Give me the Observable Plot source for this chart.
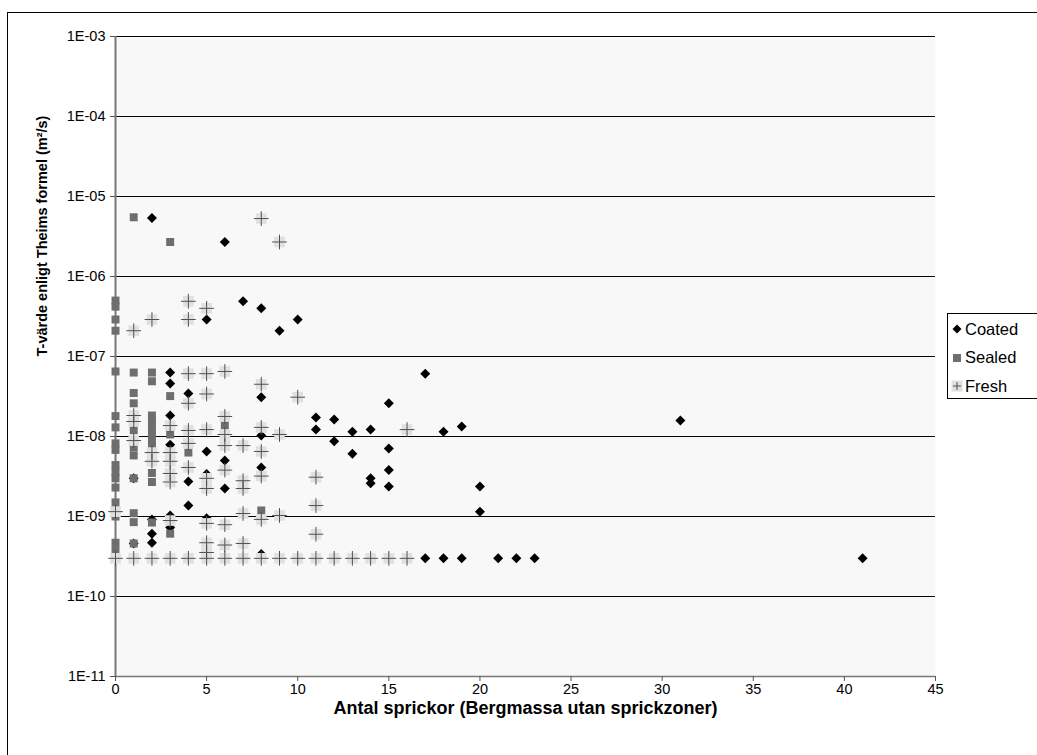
<!DOCTYPE html>
<html><head><meta charset="utf-8">
<script src="https://cdn.jsdelivr.net/npm/d3@7"></script>
<script src="https://cdn.jsdelivr.net/npm/@observablehq/plot@0.6"></script>
<style>
body{margin:0;background:#fff;font-family:"Liberation Sans",Arial,sans-serif;}
#wrap{position:relative;width:1037px;height:755px;overflow:hidden;}
#wrap svg.plot{position:absolute;left:0;top:0;}
#border{position:absolute;left:7px;top:12px;width:1100px;height:800px;border:1px solid #000;pointer-events:none;z-index:2;}
#legend{position:absolute;left:947px;top:313px;width:120px;height:84px;border:1px solid #000;background:#fff;z-index:3;font-size:16.5px;}
#legend .item{position:absolute;left:0;height:20px;display:flex;align-items:center;}
#legend svg{margin-left:3px;margin-right:2px;}
</style></head><body><div id="wrap"><div id="border"></div><div id="legend"></div></div>
<script>
// ---- data ----
const seriesNames = ["Coated", "Sealed", "Fresh"];
const coatedX = [2,6,7,8,5,10,9, 3,3,3,3,3,3, 4,4,4, 5,5,5, 6,6, 8,8,8,8, 1,1, 2,2,2, 11,11,12,12,13,13,14,14,14,15,15,15,15,17,17,18,18,19,19,20,20,21,22,23,31,41];
const coatedT = [5.4e-6,2.7e-6,4.9e-7,4.0e-7,2.9e-7,2.9e-7,2.1e-7, 6.3e-8,4.6e-8,1.83e-8,7.9e-9,1.03e-9,7.3e-10, 3.45e-8,2.74e-9,1.37e-9, 6.5e-9,3.4e-9,9.5e-10, 5.0e-9,2.24e-9, 3.1e-8,1.03e-8,4.1e-9,3.4e-10, 3.0e-9,4.6e-10, 9.2e-10,6.1e-10,4.7e-10, 1.73e-8,1.22e-8,1.63e-8,8.7e-9,1.15e-8,6.1e-9,1.22e-8,3.0e-9,2.6e-9,2.6e-8,7.1e-9,3.8e-9,2.37e-9,6.1e-8,3e-10,1.15e-8,3e-10,1.33e-8,3e-10,2.37e-9,1.15e-9,3e-10,3e-10,3e-10,1.58e-8,3e-10];
const sealedX = [0,0,0,0,0,0,0,0,0,0,0,0,0,0,0,0,0,0, 1,1,1,1,1,1,1,1,1,1,1, 2,2,2,2,2,2,2,2,2,2,2, 3,3,3,3, 4, 6, 8];
const sealedT = [5.0e-7,4.2e-7,2.9e-7,2.1e-7,6.5e-8,1.8e-8,1.3e-8,8.2e-9,6.8e-9,4.4e-9,3.6e-9,3.0e-9,2.3e-9,1.5e-9,1.2e-9,1.0e-9,4.7e-10,3.8e-10,
  5.5e-6,6.3e-8,3.5e-8,2.6e-8,1.2e-8,7.3e-9,5.8e-9,3.0e-9,1.1e-9,8.5e-10,4.6e-10,
  6.3e-8,4.9e-8,1.83e-8,1.58e-8,1.3e-8,1.09e-8,8.9e-9,7.5e-9,3.5e-9,2.7e-9,8.4e-10,
  2.7e-6,3.2e-8,1.06e-8,6.1e-10, 6.3e-9, 1.37e-8, 1.19e-9];
const freshX = [0,0, 1,1,1,1,1, 2,2,2,2, 3,3,3,3,3,3,3, 4,4,4,4,4,4,4,4, 5,5,5,5,5,5,5,5,5,5, 6,6,6,6,6,6,6,6, 7,7,7,7,7,7, 8,8,8,8,8,8,8, 9,9,9,9, 10,10, 11,11,11,11, 12,13,14,15, 16,16];
const freshT = [1.15e-9,3e-10, 2.1e-7,1.83e-8,1.54e-8,8.9e-9,3e-10, 2.9e-7,6.3e-9,4.9e-9,3e-10,
  1.37e-8,6.3e-9,4.9e-9,3.45e-9,2.7e-9,8.9e-10,3e-10,
  4.9e-7,2.9e-7,6.1e-8,2.6e-8,1.19e-8,8.2e-9,4.1e-9,3e-10,
  4.0e-7,6.1e-8,3.4e-8,1.22e-8,3.0e-9,2.24e-9,8.2e-10,4.7e-10,3.55e-10,3e-10,
  6.5e-8,1.78e-8,1.06e-8,7.7e-9,3.8e-9,7.9e-10,4.4e-10,3e-10,
  7.7e-9,2.8e-9,2.24e-9,1.09e-9,4.6e-10,3e-10,
  5.3e-6,4.5e-8,1.3e-8,6.5e-9,3.2e-9,9.2e-10,3e-10,
  2.7e-6,1.06e-8,1.03e-9,3e-10, 3.1e-8,3e-10, 3.1e-9,1.37e-9,6e-10,3e-10, 3e-10,3e-10,3e-10,3e-10, 1.22e-8,3e-10];
const xTicks = [0,5,10,15,20,25,30,35,40,45];
const yTicks = [1e-11,1e-10,1e-9,1e-8,1e-7,1e-6,1e-5,1e-4,1e-3];
const xTitle = "Antal sprickor (Bergmassa utan sprickzoner)";
const yTitle = "T-värde enligt Theims formel (m²/s)";

// ---- build tables ----
const coated = coatedX.map((x, i) => ({x, t: coatedT[i]}));
const sealed = sealedX.map((x, i) => ({x, t: sealedT[i]}));
const fresh = freshX.map((x, i) => ({x, t: freshT[i]}));

const fmtE = d => "1E-" + String(Math.round(-Math.log10(d))).padStart(2, "0");

const chart = Plot.plot({
  width: 1037,
  height: 755,
  marginLeft: 115,
  marginRight: 102,
  marginTop: 36,
  marginBottom: 79,
  style: {fontFamily: "'Liberation Sans', Arial, sans-serif", fontSize: "14.5px", color: "#000", background: "transparent"},
  x: {domain: [0, 45]},
  y: {type: "log", domain: [1e-11, 1e-3]},
  marks: [
    Plot.frame({fill: "#f8f8f8"}),
    Plot.ruleY(yTicks, {stroke: "#000", strokeWidth: 1}),
    Plot.ruleY([yTicks[0]], {stroke: "#777", strokeWidth: 1.5}),
    Plot.ruleX([xTicks[0]], {stroke: "#777", strokeWidth: 2}),
    Plot.axisY(yTicks, {tickFormat: fmtE, tickSize: 5, tickPadding: 5, label: null, stroke: "#555", fontSize: 14.5}),
    Plot.axisX(xTicks, {tickSize: 5, tickPadding: 2, label: null, stroke: "#555", fontSize: 14.5}),
    Plot.dot(coated, {x: "x", y: "t", symbol: "diamond2", r: 4.5, fill: "#000", stroke: "none"}),
    Plot.dot(sealed, {x: "x", y: "t", symbol: "square", r: 4.5, fill: "#6e6e6e", stroke: "none"}),
    Plot.dot(fresh, {x: "x", y: "t", symbol: "square", r: 6, fill: "#e0e0e0", stroke: "none"}),
    Plot.dot(fresh, {x: "x", y: "t", symbol: "plus", r: 4.8, stroke: "#505050", strokeWidth: 1}),
    Plot.text([xTitle], {text: d => d, frameAnchor: "bottom", dy: 37, fontWeight: "bold", fontSize: 18}),
    Plot.text([yTitle], {text: d => d, frameAnchor: "left", dx: -73, rotate: -90, fontWeight: "bold", fontSize: 14.5})
  ]
});
document.getElementById("wrap").prepend(chart);

// ---- legend ----
const legend = document.getElementById("legend");
const icons = {
  Coated: '<svg width="12" height="12"><path d="M6,1.5L10.5,6L6,10.5L1.5,6Z" fill="#000"/></svg>',
  Sealed: '<svg width="12" height="12"><rect x="2" y="2" width="8" height="8" fill="#6e6e6e"/></svg>',
  Fresh: '<svg width="12" height="12"><rect x="0.5" y="0.5" width="11" height="11" fill="#e0e0e0"/><path d="M2,6H10M6,2V10" stroke="#505050"/></svg>'
};
seriesNames.forEach((name, i) => {
  const div = document.createElement("div");
  div.className = "item";
  div.style.top = (5 + i * 28.5) + "px";
  div.innerHTML = icons[name] + "<span>" + name + "</span>";
  legend.appendChild(div);
});
</script>
</body></html>
